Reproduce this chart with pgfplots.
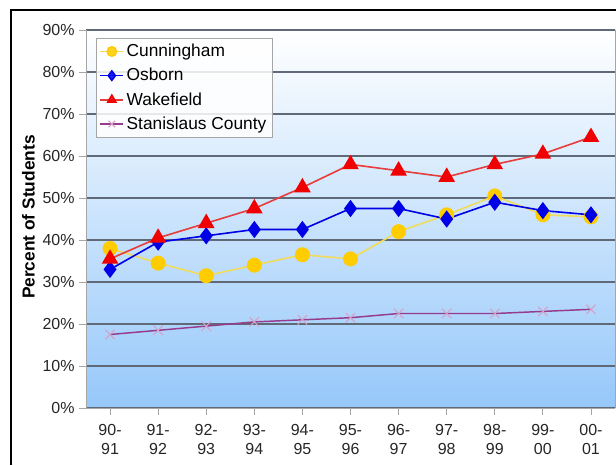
\documentclass[border=0pt]{standalone}
\usepackage{pgfplots}
\pgfplotsset{compat=1.18}
\usepackage{fontspec}
\setmainfont{Liberation Sans}
\definecolor{cun}{RGB}{255,204,0}
\definecolor{cunl}{RGB}{240,220,90}
\definecolor{osb}{RGB}{0,0,230}
\definecolor{wak}{RGB}{240,0,0}
\definecolor{wakl}{RGB}{230,60,60}
\definecolor{stan}{RGB}{150,60,140}
\definecolor{stanm}{RGB}{215,160,200}
\definecolor{bgbot}{RGB}{150,200,250}
\definecolor{gridc}{RGB}{95,105,120}
\begin{document}
\begin{tikzpicture}[x=1pt,y=1pt]
\useasboundingbox (0,0) rectangle (462,348.75);
\draw[black,line width=0.9pt] (8.25,0) -- (8.25,341.25) -- (462,341.25);
\begin{axis}[
  at={(64.5pt,42.75pt)}, anchor=south west,
  scale only axis, width=396.75pt, height=283.5pt,
  xmin=-0.5, xmax=10.5, ymin=0, ymax=90,
  axis background/.style={top color=white, bottom color=bgbot},
  xtick={0,...,10},
  xticklabels={{90-\\91},{91-\\92},{92-\\93},{93-\\94},{94-\\95},{95-\\96},{96-\\97},{97-\\98},{98-\\99},{99-\\00},{00-\\01}},
  xticklabel style={align=center, font=\fontsize{12}{14}\selectfont, text=black!85, yshift=-4pt},
  ytick={0,10,...,90},
  yticklabel={\pgfmathprintnumber{\tick}\%},
  yticklabel style={font=\fontsize{12}{14}\selectfont, text=black!85},
  /pgf/number format/assume math mode=true,
  ylabel={\textbf{Percent of Students}},
  ylabel style={font=\fontsize{13}{15}\selectfont, at={(axis description cs:-0.088,0.505)}},
  ymajorgrids, grid style={gridc, line width=0.8pt},
  axis line style={gray!70, line width=0.6pt},
  axis x line*=bottom, axis y line*=left,
  tick style={gray!70, line width=0.6pt},
  tick align=outside, major tick length=5pt,
  x axis line style={-}, y axis line style={-},
  clip=false,
  legend style={at={(0.019,0.979)}, anchor=north west, draw=gray!70, fill=white, fill opacity=0.85, text opacity=1,
    font=\fontsize{13}{15}\selectfont, row sep=3.2pt, inner sep=2.5pt, cells={anchor=west}},
  legend image post style={mark size=3.5pt},
]
\addplot[cunl, line width=1.2pt, mark=*, mark size=5pt, mark options={fill=cun, draw=cun}] coordinates {
(0,38) (1,34.5) (2,31.5) (3,34) (4,36.5) (5,35.5) (6,42) (7,46) (8,50.5) (9,46) (10,45.5)};
\addlegendentry{Cunningham}
\addplot[osb, line width=1.2pt, mark=diamond*, mark size=5.5pt, mark options={fill=osb, draw=osb}] coordinates {
(0,33) (1,39.5) (2,41) (3,42.5) (4,42.5) (5,47.5) (6,47.5) (7,45) (8,49) (9,47) (10,46)};
\addlegendentry{Osborn}
\addplot[wakl, line width=1.2pt, mark=triangle*, mark size=6pt, mark options={fill=wak, draw=wak}] coordinates {
(0,35.5) (1,40.5) (2,44) (3,47.5) (4,52.5) (5,58) (6,56.5) (7,55) (8,58) (9,60.5) (10,64.5)};
\addlegendentry{Wakefield}
\addplot[stan, line width=1.1pt, mark=x, mark size=5pt, mark options={draw=stanm, line width=0.8pt}] coordinates {
(0,17.5) (1,18.5) (2,19.5) (3,20.5) (4,21) (5,21.5) (6,22.5) (7,22.5) (8,22.5) (9,23) (10,23.5)};
\addlegendentry{Stanislaus County}
\draw[gray!70, line width=0.6pt] (axis cs:10.5,0) -- (axis cs:10.5,90);
\end{axis}
\end{tikzpicture}
\end{document}
